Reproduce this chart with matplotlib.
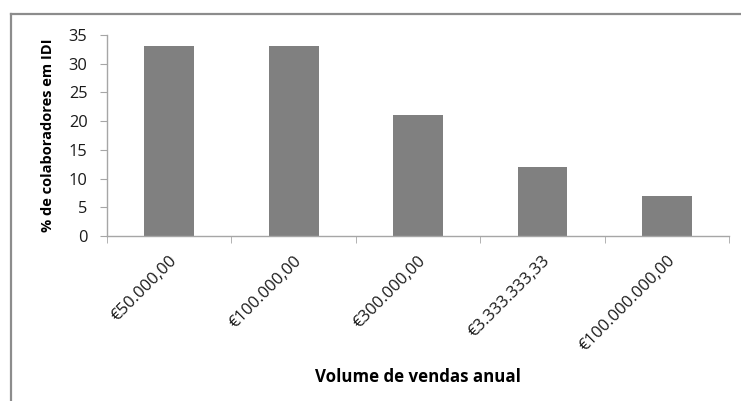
import matplotlib
matplotlib.use('Agg')
import matplotlib.pyplot as plt
import numpy as np
from matplotlib.lines import Line2D

categories = ['€50.000,00', '€100.000,00', '€300.000,00', '€3.333.333,33', '€100.000.000,00']
values = [33, 33, 21, 12, 7]
yticks = [0, 5, 10, 15, 20, 25, 30, 35]

plt.rcParams['font.family'] = ['Open Sans', 'DejaVu Sans']

fig = plt.figure(figsize=(7.41, 4.01), dpi=100)
ax = fig.add_axes([0.1444, 0.4115, 0.8395, 0.5012])

x = np.arange(len(categories))
ax.bar(x, values, width=0.4, color='#808080')

ax.set_xlim(-0.5, len(categories) - 0.5)
ax.set_ylim(0, 35)
ax.set_yticks(yticks)
ax.set_xticks(x)
ax.set_xticklabels(categories, rotation=45, ha='right', rotation_mode='anchor')
ax.set_xticks(np.arange(-0.5, len(categories)), minor=True)

axis_color = '#a6a6a6'
for side in ['top', 'right']:
    ax.spines[side].set_visible(False)
for side in ['left', 'bottom']:
    ax.spines[side].set_color(axis_color)
    ax.spines[side].set_linewidth(1.0)

ax.tick_params(axis='x', which='major', length=0, pad=12, labelsize=12, colors='#1a1a1a')
ax.tick_params(axis='x', which='minor', length=5, color=axis_color, direction='out')
ax.tick_params(axis='y', length=5, color=axis_color, labelsize=11.8, labelcolor='#1a1a1a', pad=9)

ax.set_ylabel('% de colaboradores em IDI', fontsize=10.5, fontweight='bold', labelpad=10)
ax.set_xlabel('Volume de vendas anual', fontsize=12.2, fontweight='bold', labelpad=10)

# outer chart frame (left and top edges)
fig.add_artist(Line2D([0.0145, 0.0145], [0.0, 0.966], transform=fig.transFigure, color='#8c8c8c', lw=1.6))
fig.add_artist(Line2D([0.0145, 1.0], [0.966, 0.966], transform=fig.transFigure, color='#8c8c8c', lw=1.6))

plt.savefig('out.png', dpi=100)
plt.close()
